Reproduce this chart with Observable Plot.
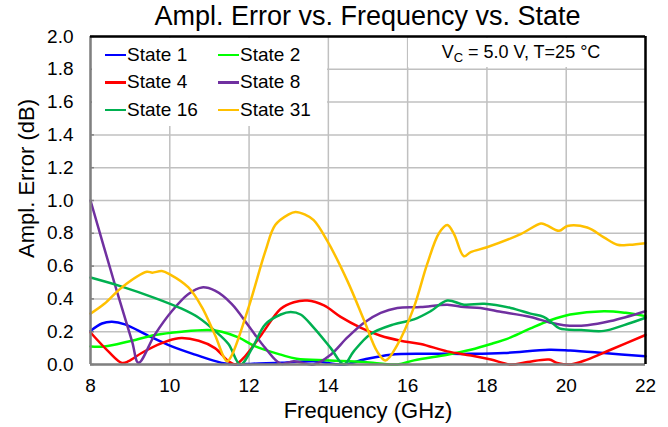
<!DOCTYPE html>
<html>
<head>
<meta charset="utf-8">
<script src="https://cdn.jsdelivr.net/npm/d3@7"></script>
<script src="https://cdn.jsdelivr.net/npm/@observablehq/plot@0.6"></script>
<style>
  body { margin: 0; background: #fff; }
  #wrap { position: relative; width: 668px; height: 427px; font-family: "Liberation Sans", Arial, sans-serif; color: #000; }
  #title { width: 668px; height: 34px; box-sizing: border-box; padding-left: 67px; text-align: center; font-size: 27px; line-height: 33px; white-space: nowrap; }
  #legend { position: absolute; left: 92px; top: 38px; width: 235px; height: 88px; background: #fff; box-sizing: border-box; padding-top: 3px; display: grid; grid-template-columns: 113px 120px; grid-auto-rows: 27.5px; align-items: center; font-size: 19px; }
  #legend .item { display: flex; align-items: center; white-space: nowrap; }
  #legend .sw { display: inline-block; width: 21px; height: 2.5px; margin-left: 13px; margin-right: 1px; }
  #note { position: absolute; left: 408px; top: 38px; width: 234px; height: 29px; background: #fff; box-sizing: border-box; padding-right: 8px; text-align: center; line-height: 29px; font-size: 18px; white-space: nowrap; }
  #note sub { font-size: 13px; vertical-align: -4px; line-height: 0; }
</style>
</head>
<body>
<div id="wrap">
  <div id="title">Ampl. Error vs. Frequency vs. State</div>
  <div id="chart"></div>
  <div id="legend"></div>
  <div id="note">V<sub>C</sub> = 5.0 V, T=25 °C</div>
</div>
<script>
const seriesNames = ["State 1", "State 2", "State 4", "State 8", "State 16", "State 31"];
const seriesColors = ["#0000ff", "#00ff00", "#ff0000", "#7030a0", "#00b050", "#ffc000"];
const legendOrder = ["State 1", "State 2", "State 4", "State 8", "State 16", "State 31"];

const xTicks = [8, 10, 12, 14, 16, 18, 20, 22];
const yTicks = [0, 0.2, 0.4, 0.6, 0.8, 1.0, 1.2, 1.4, 1.6, 1.8, 2.0];

const state1Freq = [8.0, 8.29, 8.54, 8.87, 9.46, 10.05, 10.64, 11.31, 11.7, 12.1, 12.83, 13.63, 14.39, 14.9, 15.57, 16.58, 17.6, 18.43, 19.57, 20.1, 20.95, 22];
const state1Err  = [0.205, 0.25, 0.26, 0.245, 0.175, 0.11, 0.06, 0.01, 0.0, 0.005, 0.01, 0.02, 0.0, 0.03, 0.06, 0.065, 0.065, 0.07, 0.09, 0.085, 0.07, 0.05];

const state2Freq = [8, 8.35, 8.96, 9.63, 10.3, 10.98, 11.31, 11.73, 12.16, 12.8, 13.2, 14.04, 14.9, 15.74, 16.16, 17.0, 17.59, 18.1, 18.6, 19.1, 19.6, 20.1, 20.95, 21.5, 22];
const state2Err  = [0.11, 0.11, 0.14, 0.18, 0.2, 0.21, 0.2, 0.165, 0.11, 0.06, 0.035, 0.025, 0.015, 0.0, 0.025, 0.06, 0.09, 0.125, 0.165, 0.22, 0.27, 0.305, 0.325, 0.315, 0.295];

const state4Freq = [8, 8.45, 8.79, 8.96, 9.29, 9.8, 10.22, 10.73, 11.14, 11.48, 11.65, 11.9, 12.32, 12.8, 13.13, 13.47, 13.89, 14.31, 14.81, 15.32, 15.82, 16.33, 17.0, 17.6, 18.1, 18.6, 19.02, 19.57, 19.77, 20.11, 20.53, 21.12, 22];
const state4Err  = [0.195, 0.08, 0.01, 0.02, 0.07, 0.13, 0.16, 0.145, 0.10, 0.02, 0.0, 0.05, 0.185, 0.34, 0.38, 0.39, 0.36, 0.29, 0.225, 0.175, 0.145, 0.125, 0.08, 0.055, 0.03, 0.0, 0.015, 0.03, 0.01, 0.0, 0.03, 0.09, 0.18];

const state8Freq = [8, 8.6, 9.05, 9.21, 9.63, 10.05, 10.47, 10.81, 11.14, 11.56, 11.99, 12.41, 12.8, 13.13, 13.63, 14.06, 14.48, 14.9, 15.32, 15.74, 16.33, 17.0, 17.42, 17.84, 18.26, 19.1, 19.6, 19.94, 20.53, 21.12, 22];
const state8Err  = [1.0, 0.5, 0.14, 0.01, 0.185, 0.325, 0.43, 0.47, 0.45, 0.37, 0.235, 0.10, 0.005, 0.02, 0.0, 0.06, 0.165, 0.255, 0.315, 0.345, 0.35, 0.365, 0.35, 0.345, 0.325, 0.29, 0.255, 0.24, 0.24, 0.265, 0.325];

const state16Freq = [8, 8.79, 9.63, 10.3, 10.73, 11.14, 11.48, 11.78, 12.08, 12.41, 12.8, 13.05, 13.3, 13.63, 14.06, 14.39, 14.64, 15.06, 15.65, 16.16, 16.58, 17.0, 17.42, 17.93, 18.6, 19.1, 19.43, 19.64, 19.83, 20.38, 20.95, 21.46, 22];
const state16Err  = [0.53, 0.475, 0.405, 0.34, 0.285, 0.205, 0.125, 0.0, 0.10, 0.245, 0.305, 0.32, 0.305, 0.225, 0.10, 0.0, 0.08, 0.185, 0.245, 0.275, 0.325, 0.39, 0.365, 0.37, 0.345, 0.31, 0.29, 0.255, 0.22, 0.21, 0.205, 0.24, 0.285];

const state31Freq = [8, 8.35, 8.79, 9.42, 9.56, 9.8, 10.0, 10.47, 10.81, 11.14, 11.44, 11.55, 11.99, 12.41, 12.66, 13.0, 13.17, 13.4, 13.63, 13.97, 14.48, 14.9, 15.23, 15.44, 15.74, 16.16, 16.49, 16.79, 17.0, 17.17, 17.42, 17.59, 18.0, 18.85, 19.36, 19.5, 19.82, 20.03, 20.53, 20.95, 21.29, 21.6, 22];
const state31Err  = [0.31, 0.37, 0.47, 0.565, 0.56, 0.57, 0.55, 0.47, 0.35, 0.18, 0.02, 0.05, 0.35, 0.69, 0.85, 0.915, 0.93, 0.915, 0.88, 0.755, 0.51, 0.27, 0.08, 0.025, 0.12, 0.35, 0.61, 0.80, 0.85, 0.795, 0.66, 0.685, 0.715, 0.795, 0.86, 0.85, 0.815, 0.845, 0.835, 0.775, 0.73, 0.73, 0.74];

const seriesData = [
  ["State 1", state1Freq, state1Err],
  ["State 2", state2Freq, state2Err],
  ["State 4", state4Freq, state4Err],
  ["State 8", state8Freq, state8Err],
  ["State 16", state16Freq, state16Err],
  ["State 31", state31Freq, state31Err]
];
const rows = seriesData.flatMap(([name, fs, vs]) => fs.map((f, i) => ({state: name, freq: f, err: vs[i]})));

const chart = Plot.plot({
  width: 668,
  height: 393,
  marginTop: 2,
  marginLeft: 90,
  marginRight: 23,
  marginBottom: 63,
  style: {fontFamily: "'Liberation Sans', Arial, sans-serif", fontSize: "19px", color: "#000", background: "#fff", overflow: "visible"},
  x: {domain: [8, 22]},
  y: {domain: [0, 2]},
  color: {domain: seriesNames, range: seriesColors},
  marks: [
    Plot.gridX(xTicks, {stroke: "#c0c0c0", strokeOpacity: 1, strokeWidth: 1.5}),
    Plot.gridY(yTicks, {stroke: "#c0c0c0", strokeOpacity: 1, strokeWidth: 1.5}),
    Plot.ruleY(yTicks, {x1: 8, x2: 8.1, stroke: "#808080", strokeWidth: 1.5}),
    Plot.axisX(xTicks, {tickSize: 0, tickPadding: 14, label: null, tickFormat: d => String(d)}),
    Plot.axisY(yTicks, {tickSize: 0, tickPadding: 17, label: null, tickFormat: d => d.toFixed(1)}),
    Plot.line(rows, {x: "freq", y: "err", z: "state", stroke: "state", strokeWidth: 2.5, curve: "catmull-rom"}),
    Plot.ruleX([8], {stroke: "#808080", strokeWidth: 2.5}),
    Plot.ruleY([0], {stroke: "#808080", strokeWidth: 2.5}),
    Plot.ruleX([22], {stroke: "#000", strokeWidth: 2.5}),
    Plot.ruleY([2], {stroke: "#000", strokeWidth: 2.5}),
    Plot.text(["Frequency (GHz)"], {frameAnchor: "bottom", lineAnchor: "middle", textAnchor: "middle", dy: 46, fontSize: 22}),
    Plot.text(["Ampl. Error (dB)"], {frameAnchor: "left", lineAnchor: "middle", textAnchor: "middle", dx: -64, dy: -22, rotate: -90, fontSize: 22})
  ]
});
document.getElementById("chart").appendChild(chart);

const legend = document.getElementById("legend");
legendOrder.forEach(name => {
  const item = document.createElement("div");
  item.className = "item";
  const sw = document.createElement("span");
  sw.className = "sw";
  sw.style.background = seriesColors[seriesNames.indexOf(name)];
  const label = document.createElement("span");
  label.textContent = name;
  item.appendChild(sw);
  item.appendChild(label);
  legend.appendChild(item);
});
</script>
</body>
</html>
